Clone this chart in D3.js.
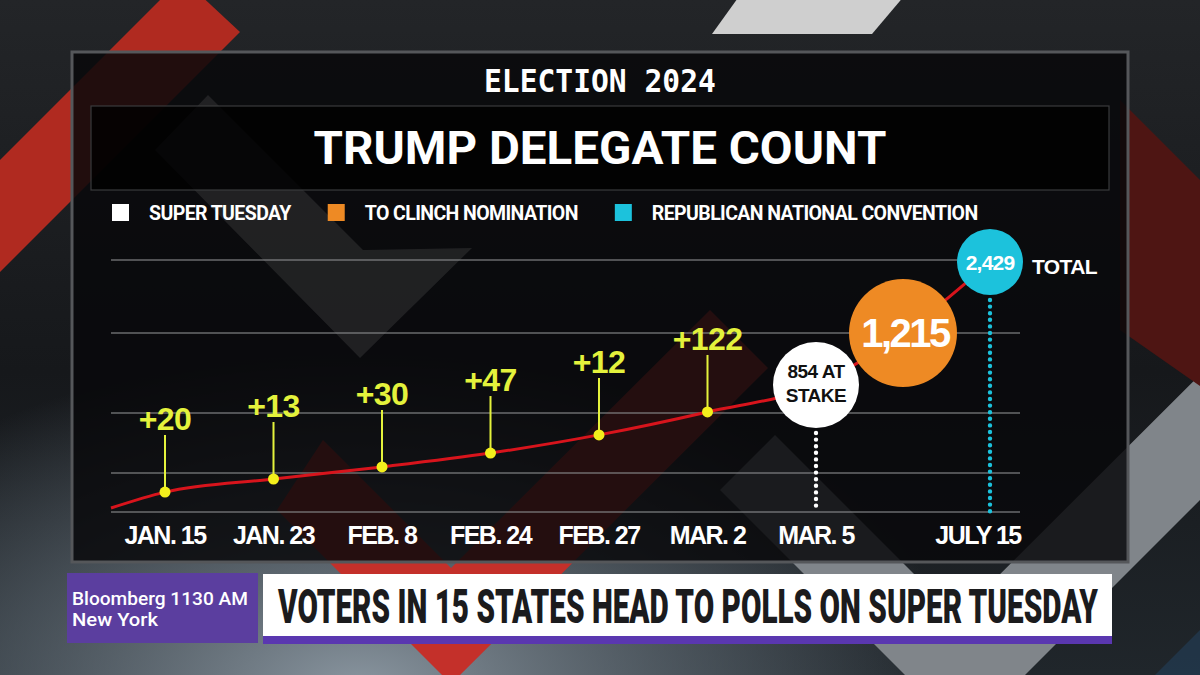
<!DOCTYPE html>
<html>
<head>
<meta charset="utf-8">
<script src="https://cdn.jsdelivr.net/npm/d3@7"></script>
<style>
  html, body { margin: 0; padding: 0; background: #17191c; overflow: hidden; }
  svg { display: block; }
</style>
</head>
<body>
<svg id="chart"></svg>
<script>
const W = 1200, H = 675

const dates = ["JAN. 15", "JAN. 23", "FEB. 8", "FEB. 24", "FEB. 27", "MAR. 2", "MAR. 5", "JULY 15"]
const gains = [20, 13, 30, 47, 12, 122]
// height of the red line, 0-100 (the graphic is schematic, not to scale)
const startLevel = 1.6
const gainLevels = [7.9, 13.1, 17.9, 23.4, 30.6, 39.7]
const milestoneNames = ["SUPER TUESDAY", "TO CLINCH NOMINATION", "REPUBLICAN NATIONAL CONVENTION"]
const milestoneValues = [854, 1215, 2429]
const milestoneLevels = [50.4, 71, 99.2]
const gridLevels = [0, 15.5, 39.3, 71, 100]

const palette = ["#ffffff", "#ee8a24", "#1cc2dc"]
const yellow = "#e4f23c"
const sans = "'Liberation Sans', Arial, sans-serif"

const svg = d3.select('#chart').attr('width', W).attr('height', H)
const defs = svg.append('defs')

// squeeze a text horizontally so it spans `width` px (keeps its bbox honest)
function squeeze(sel, x, y, width, anchor) {
  const natural = sel.node().getComputedTextLength()
  const sx = width / natural
  const x0 = anchor === 'middle' ? x - width / 2 : x
  sel.attr('x', 0).attr('y', 0).attr('text-anchor', 'start')
    .attr('transform', `translate(${x0},${y}) scale(${sx},1)`)
  return sel
}

// ---------- background ----------
const bg = defs.append('linearGradient').attr('id', 'bg').attr('x1', 0).attr('y1', 0).attr('x2', 0).attr('y2', 1)
bg.append('stop').attr('offset', 0).attr('stop-color', '#232528')
bg.append('stop').attr('offset', 0.55).attr('stop-color', '#16181b')
bg.append('stop').attr('offset', 1).attr('stop-color', '#20262b')
const glow = defs.append('radialGradient').attr('id', 'glow')
  .attr('cx', 0.3).attr('cy', 1.02).attr('r', 0.5)
glow.append('stop').attr('offset', 0).attr('stop-color', '#8a96a0').attr('stop-opacity', 1)
glow.append('stop').attr('offset', 0.6).attr('stop-color', '#6a7680').attr('stop-opacity', 0.5)
glow.append('stop').attr('offset', 1).attr('stop-color', '#6a7680').attr('stop-opacity', 0)

svg.append('rect').attr('width', W).attr('height', H).attr('fill', 'url(#bg)')
svg.append('rect').attr('width', W).attr('height', H).attr('fill', 'url(#glow)')

const shapes = svg.append('g')
const poly = pts => 'M' + pts.map(p => p.join(',')).join('L') + 'Z'
// red band top left
shapes.append('path').attr('d', poly([[182, -22], [240, 32], [-200, 472], [-200, 360]])).attr('fill', '#b02a20')
// bright gray arm at the top
shapes.append('path').attr('d', poly([[740, -5], [905, -5], [872, 34], [712, 34]])).attr('fill', '#cfcfcf')
// red V in the middle
shapes.append('path').attr('d', poly([[277, 510], [323, 440], [451, 568], [710, 310], [768, 368], [451, 684]]))
  .attr('fill', '#c4302a')
// gray V lower right
shapes.append('path').attr('d', poly([[720, 490], [775, 435], [957, 617], [1275, 300], [1400, 300], [965, 735]]))
  .attr('fill', '#80858a')
// red band right edge
shapes.append('path').attr('d', poly([[1120, 100], [1320, 300], [1320, 470], [1120, 330]])).attr('fill', '#4e1513')
// faint blue band bottom right
shapes.append('path').attr('d', poly([[1130, 700], [1400, 430], [1400, 520], [1220, 700]])).attr('fill', '#23405a').attr('opacity', 0.6)

// ---------- panel ----------
svg.append('rect').attr('x', 72).attr('y', 52).attr('width', 1056).attr('height', 510)
  .attr('fill', 'rgba(8,8,10,0.85)').attr('stroke', '#55575a').attr('stroke-width', 3)

// light chevron seen through the panel
svg.append('path').attr('d', poly([[155, 150], [208, 95], [363, 250], [472, 248], [360, 358]]))
  .attr('fill', '#ffffff').attr('opacity', 0.09)

squeeze(svg.append('text')
  .attr('font-family', "'DejaVu Sans Mono', monospace").attr('font-weight', 'bold')
  .attr('font-size', 32).attr('fill', '#fff')
  .text('ELECTION 2024'), 600, 92, 232, 'middle')

svg.append('rect').attr('x', 91).attr('y', 106).attr('width', 1018).attr('height', 84)
  .attr('fill', 'rgba(0,0,0,0.8)').attr('stroke', '#3a3b3d').attr('stroke-width', 1.2)
squeeze(svg.append('text')
  .attr('font-family', 'Roboto, sans-serif').attr('font-weight', 'bold')
  .attr('font-size', 47).attr('fill', '#fff')
  .text('TRUMP DELEGATE COUNT'), 600, 164, 573, 'middle')

// ---------- legend ----------
const legend = svg.append('g')
let lx = 112
milestoneNames.forEach((name, i) => {
  legend.append('rect').attr('x', lx).attr('y', 204).attr('width', 17).attr('height', 17).attr('fill', palette[i])
  const t = legend.append('text').attr('x', lx + 37).attr('y', 219.5)
    .attr('font-family', 'Roboto, sans-serif').attr('font-weight', 'bold')
    .attr('font-size', 19.5).attr('letter-spacing', -0.6).attr('fill', '#fff').text(name)
  lx += 37 + t.node().getComputedTextLength() + 37
})

// ---------- plot ----------
const plotLeft = 111, plotRight = 1020, plotTop = 260, plotBottom = 512
const x = d3.scalePoint().domain(dates.slice(0, 7)).range([165, 816])
const xJuly = plotRight - 30
const xPos = d => d === "JULY 15" ? xJuly : x(d)
const y = d3.scaleLinear().domain([0, 100]).range([plotBottom, plotTop])

svg.append('g').selectAll('line').data(gridLevels).join('line')
  .attr('x1', plotLeft).attr('x2', plotRight)
  .attr('y1', d => y(d)).attr('y2', d => y(d))
  .attr('stroke', '#8a8b8d').attr('stroke-opacity', 0.75).attr('stroke-width', 1.5)

const gainDates = dates.slice(0, 6)
const milestoneX = [x("MAR. 5"), (x("MAR. 5") + xJuly) / 2, xJuly]
const linePts = [[plotLeft, y(startLevel)]]
  .concat(gainDates.map((d, i) => [x(d), y(gainLevels[i])]))
  .concat(milestoneLevels.map((v, i) => [milestoneX[i], y(v)]))

svg.append('path').attr('d', d3.line().curve(d3.curveMonotoneX)(linePts))
  .attr('fill', 'none').attr('stroke', '#d8141c').attr('stroke-width', 3)

const radii = [43, 54, 33]

// dotted drop lines for Super Tuesday and the convention
;[0, 2].forEach(i => {
  svg.append('line')
    .attr('x1', milestoneX[i]).attr('x2', milestoneX[i])
    .attr('y1', y(milestoneLevels[i]) + radii[i] + 5).attr('y2', plotBottom)
    .attr('stroke', palette[i]).attr('stroke-width', 4.4)
    .attr('stroke-linecap', 'round').attr('stroke-dasharray', '0 6.6')
})

// gains: stems, dots, labels
const g = svg.append('g')
gains.forEach((v, i) => {
  const cx = x(gainDates[i]), cy = y(gainLevels[i])
  g.append('line').attr('x1', cx).attr('x2', cx).attr('y1', cy).attr('y2', cy - 57)
    .attr('stroke', yellow).attr('stroke-width', 2)
  g.append('circle').attr('cx', cx).attr('cy', cy).attr('r', 5.5).attr('fill', '#f3ef1c')
  g.append('text').attr('x', cx).attr('y', cy - 62).attr('text-anchor', 'middle')
    .attr('font-family', sans).attr('font-weight', 'bold').attr('font-size', 32)
    .attr('letter-spacing', -0.6).attr('fill', yellow).text('+' + v)
})

// milestone circles
const fmt = d3.format(',')
milestoneValues.forEach((v, i) => {
  svg.append('circle').attr('cx', milestoneX[i]).attr('cy', y(milestoneLevels[i])).attr('r', radii[i])
    .attr('fill', palette[i])
})
const c0 = y(milestoneLevels[0])
svg.append('text').attr('x', milestoneX[0]).attr('y', c0 - 7).attr('text-anchor', 'middle')
  .attr('font-family', sans).attr('font-weight', 'bold').attr('font-size', 19).attr('letter-spacing', -0.5)
  .attr('fill', '#111').text(fmt(milestoneValues[0]) + ' AT')
svg.append('text').attr('x', milestoneX[0]).attr('y', c0 + 17).attr('text-anchor', 'middle')
  .attr('font-family', sans).attr('font-weight', 'bold').attr('font-size', 19).attr('letter-spacing', -0.5)
  .attr('fill', '#111').text('STAKE')
svg.append('text').attr('x', milestoneX[1] + 2).attr('y', y(milestoneLevels[1]) + 14).attr('text-anchor', 'middle')
  .attr('font-family', sans).attr('font-weight', 'bold').attr('font-size', 40).attr('letter-spacing', -2.5)
  .attr('fill', '#fff').text(fmt(milestoneValues[1]))
svg.append('text').attr('x', milestoneX[2]).attr('y', y(milestoneLevels[2]) + 8).attr('text-anchor', 'middle')
  .attr('font-family', sans).attr('font-weight', 'bold').attr('font-size', 21).attr('letter-spacing', -0.8)
  .attr('fill', '#fff').text(fmt(milestoneValues[2]))
svg.append('text').attr('x', milestoneX[2] + radii[2] + 9).attr('y', y(milestoneLevels[2]) + 12)
  .attr('font-family', sans).attr('font-weight', 'bold').attr('font-size', 21).attr('letter-spacing', -0.6)
  .attr('fill', '#fff').text('TOTAL')

// date labels
svg.append('g').selectAll('text').data(dates).join('text')
  .attr('x', d => d === "JULY 15" ? xPos(d) - 12 : xPos(d))
  .attr('y', 544).attr('text-anchor', 'middle')
  .attr('font-family', sans).attr('font-weight', 'bold').attr('font-size', 25)
  .attr('letter-spacing', -1.5).attr('fill', '#fff')
  .text(d => d)

// ---------- lower third ----------
svg.append('rect').attr('x', 67).attr('y', 573).attr('width', 191).attr('height', 70).attr('fill', '#5b3e9f')
squeeze(svg.append('text')
  .attr('font-family', 'Roboto, sans-serif').attr('font-weight', 500).attr('font-size', 19)
  .attr('fill', '#fff').text('Bloomberg 1130 AM'), 72, 605, 176)
squeeze(svg.append('text')
  .attr('font-family', 'Roboto, sans-serif').attr('font-weight', 500).attr('font-size', 19)
  .attr('fill', '#fff').text('New York'), 72, 626, 86)

svg.append('rect').attr('x', 263).attr('y', 574).attr('width', 849).attr('height', 62).attr('fill', '#fff')
svg.append('rect').attr('x', 263).attr('y', 636).attr('width', 849).attr('height', 8).attr('fill', '#5a37b0')
squeeze(svg.append('text')
  .attr('font-family', 'Roboto, sans-serif').attr('font-weight', 900).attr('font-size', 48)
  .attr('fill', '#1b1b1d')
  .text('VOTERS IN 15 STATES HEAD TO POLLS ON SUPER TUESDAY'), 278, 623, 820)
</script>
</body>
</html>
